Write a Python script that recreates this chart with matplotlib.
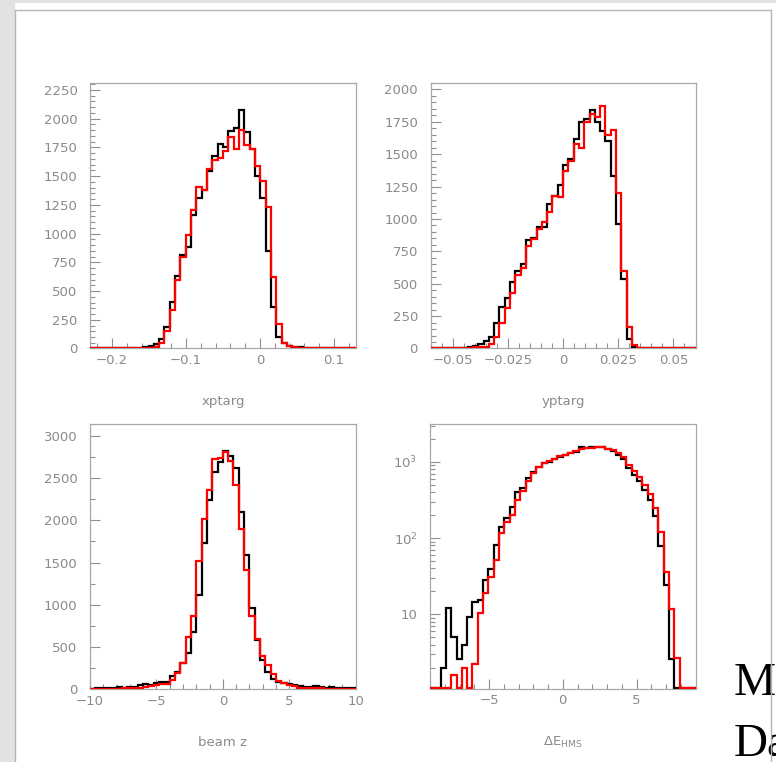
import numpy as np
import matplotlib
matplotlib.use("Agg")
import matplotlib.pyplot as plt
from matplotlib.ticker import FixedLocator, MultipleLocator, FixedFormatter, NullFormatter
from matplotlib.patches import Rectangle
from matplotlib.lines import Line2D

# ---------------- histogram contents (50 bins each) ----------------
xptarg_range = (-0.23, 0.13)
xptarg_black = [2, 3, 3, 3, 4, 4, 5, 5, 6, 8,
                12, 23, 37, 80, 191, 405, 634, 814, 886, 1162,
                1309, 1382, 1545, 1675, 1779, 1756, 1895, 1918, 2074, 1886,
                1735, 1500, 1307, 852, 362, 98, 52, 26, 16, 10,
                8, 6, 5, 4, 4, 3, 3, 2, 2, 2]
xptarg_red = [1, 1, 1, 2, 2, 2, 2, 3, 3, 3,
              5, 8, 15, 45, 150, 333, 595, 794, 991, 1205,
              1405, 1379, 1560, 1640, 1660, 1721, 1837, 1735, 1900, 1770,
              1735, 1585, 1455, 1228, 626, 217, 50, 22, 12, 8,
              5, 4, 4, 3, 3, 2, 2, 2, 2, 2]

yptarg_range = (-0.06, 0.06)
yptarg_black = [2, 2, 3, 3, 3, 4, 5, 8, 22, 32,
                61, 91, 195, 323, 393, 517, 599, 653, 839, 852,
                941, 941, 1114, 1174, 1264, 1415, 1461, 1618, 1747, 1773,
                1840, 1750, 1680, 1600, 1335, 960, 535, 70, 10, 3,
                2, 1, 1, 1, 1, 1, 1, 1, 1, 1]
yptarg_red = [1, 1, 1, 1, 2, 2, 3, 4, 8, 12,
              14, 32, 91, 195, 310, 426, 568, 625, 795, 845,
              923, 973, 1053, 1175, 1172, 1373, 1451, 1580, 1546, 1752,
              1812, 1785, 1874, 1650, 1688, 1203, 600, 167, 26, 5,
              2, 2, 1, 1, 1, 1, 1, 1, 1, 1]

beamz_range = (-10.0, 10.0)
beamz_black = [4, 10, 14, 15, 17, 22, 18, 28, 25, 45,
               62, 50, 75, 90, 85, 160, 201, 308, 426, 683,
               1117, 1735, 2242, 2575, 2688, 2822, 2763, 2617, 2096, 1591,
               967, 584, 347, 201, 122, 91, 71, 59, 51, 43,
               32, 28, 35, 24, 20, 28, 20, 16, 12, 12]
beamz_red = [2, 4, 5, 6, 6, 8, 10, 12, 15, 20,
             30, 40, 50, 65, 59, 107, 189, 316, 616, 872,
             1515, 2020, 2355, 2727, 2735, 2814, 2704, 2420, 1898, 1413,
             872, 592, 399, 288, 178, 99, 79, 51, 35, 20,
             15, 12, 10, 12, 8, 8, 6, 5, 4, 3]

de_range = (-9.0, 9.0)
de_black = [0, 0, 2, 12, 5, 2.6, 4, 9.3, 14.7, 15.4,
            28, 39, 81, 139, 186, 254, 408, 451, 611, 747,
            869, 957, 1005, 1083, 1150, 1234, 1325, 1367, 1555, 1525,
            1555, 1590, 1555, 1480, 1390, 1250, 1080, 830, 680, 555,
            430, 320, 195, 78, 24, 2.6, 0, 0, 0, 0]
de_red = [0, 0, 0, 0, 1.6, 0, 2, 0, 2.2, 10.5,
          18.8, 31, 52, 115, 162, 200, 316, 420, 560, 720,
          850, 960, 1040, 1100, 1180, 1250, 1330, 1400, 1480, 1520,
          1540, 1580, 1560, 1500, 1420, 1300, 1150, 900, 760, 640,
          500, 380, 250, 120, 36, 11.6, 2.7, 0, 0, 0]

W, H = 776, 762
fig = plt.figure(figsize=(W / 100, H / 100), dpi=100)
fig.patch.set_facecolor("white")

# slide background: grey margin on the left and top, framed white page
fig.patches.append(Rectangle((0, 0), 15 / W, 1, transform=fig.transFigure,
                             facecolor="#e2e2e2", edgecolor="none", zorder=0))
fig.patches.append(Rectangle((0, 1 - 3 / H), 1, 3 / H, transform=fig.transFigure,
                             facecolor="#e2e2e2", edgecolor="none", zorder=0))

GREY = "#8a8a8a"
FRAME = "#a8a8a8"
FS = 9.5


def px_axes(x0, y0, x1, y1):
    return fig.add_axes([x0 / W, 1 - y1 / H, (x1 - x0) / W, (y1 - y0) / H])


def style(ax):
    for s in ax.spines.values():
        s.set_color(FRAME)
        s.set_linewidth(0.9)
    ax.tick_params(which="both", direction="in", colors="#909090",
                   labelcolor=GREY, labelsize=FS, top=False, right=False,
                   width=0.8)
    ax.tick_params(which="major", length=7.5, pad=4)
    ax.tick_params(which="minor", length=3.8)
    ax.tick_params(axis="y", pad=9)


def draw_hist(ax, vals, rng, floor=0.0):
    edges = np.linspace(rng[0], rng[1], len(vals) + 1)
    v = np.maximum(np.asarray(vals, dtype=float), floor)
    ax.stairs(v, edges, baseline=floor, color=None, fill=False)


def hists(ax, black, red, rng, floor=0.0):
    for vals, col in ((black, "black"), (red, "#ff0000")):
        edges = np.linspace(rng[0], rng[1], len(vals) + 1)
        v = np.maximum(np.asarray(vals, dtype=float), floor)
        ax.stairs(v, edges, baseline=floor, color=col, linewidth=1.6,
                  zorder=3 if col == "black" else 4)
    ax.set_xlim(*rng)


# ---- xptarg ----
ax1 = px_axes(90, 83, 356, 348.5)
hists(ax1, xptarg_black, xptarg_red, xptarg_range)
ax1.set_ylim(0, 2310)
ax1.yaxis.set_major_locator(MultipleLocator(250))
ax1.yaxis.set_minor_locator(MultipleLocator(50))
ax1.xaxis.set_major_locator(FixedLocator([-0.2, -0.1, 0, 0.1]))
ax1.xaxis.set_major_formatter(FixedFormatter(["\u22120.2", "\u22120.1", "0", "0.1"]))
ax1.xaxis.set_minor_locator(MultipleLocator(0.02))
style(ax1)
fig.text(223 / W, 1 - 402 / H, "xptarg", ha="center", va="center",
         color=GREY, fontsize=FS)

# ---- yptarg ----
ax2 = px_axes(430.5, 83, 695.5, 348.5)
hists(ax2, yptarg_black, yptarg_red, yptarg_range)
ax2.set_ylim(0, 2050)
ax2.yaxis.set_major_locator(MultipleLocator(250))
ax2.yaxis.set_minor_locator(MultipleLocator(50))
ax2.xaxis.set_major_locator(FixedLocator([-0.05, -0.025, 0, 0.025, 0.05]))
ax2.xaxis.set_major_formatter(FixedFormatter(["\u22120.05", "\u22120.025", "0", "0.025", "0.05"]))
ax2.xaxis.set_minor_locator(MultipleLocator(0.005))
style(ax2)
fig.text(563 / W, 1 - 402 / H, "yptarg", ha="center", va="center",
         color=GREY, fontsize=FS)

# ---- beam z ----
ax3 = px_axes(90, 424, 355.7, 689.3)
hists(ax3, beamz_black, beamz_red, beamz_range)
ax3.set_ylim(0, 3140)
ax3.yaxis.set_major_locator(MultipleLocator(500))
ax3.yaxis.set_minor_locator(MultipleLocator(250))
ax3.xaxis.set_major_locator(FixedLocator([-10, -5, 0, 5, 10]))
ax3.xaxis.set_major_formatter(FixedFormatter(["\u221210", "\u22125", "0", "5", "10"]))
ax3.xaxis.set_minor_locator(MultipleLocator(1))
style(ax3)
fig.text(223 / W, 1 - 742 / H, "beam z", ha="center", va="center",
         color=GREY, fontsize=FS)

# ---- Delta E (log) ----
ax4 = px_axes(430, 424, 695.5, 688.5)
ax4.set_yscale("log")
ylo, yhi = 1.06, 3150
hists(ax4, de_black, de_red, de_range, floor=ylo)
ax4.set_ylim(ylo, yhi)
ax4.yaxis.set_major_locator(FixedLocator([10, 100, 1000]))
ax4.yaxis.set_major_formatter(FixedFormatter(["10", r"$\mathdefault{10^{2}}$",
                                              r"$\mathdefault{10^{3}}$"]))
minors = [m * 10 ** e for e in range(0, 4) for m in range(2, 10) if m * 10 ** e < yhi]
ax4.yaxis.set_minor_locator(FixedLocator(minors))
ax4.yaxis.set_minor_formatter(NullFormatter())
ax4.xaxis.set_major_locator(FixedLocator([-5, 0, 5]))
ax4.xaxis.set_major_formatter(FixedFormatter(["\u22125", "0", "5"]))
ax4.xaxis.set_minor_locator(MultipleLocator(1))
style(ax4)
fig.text(563 / W, 1 - 742 / H, r"$\Delta$E$_{\rm HMS}$", ha="center", va="center",
         color=GREY, fontsize=FS)

# partial slide text at the lower right
fig.text(734 / W, 1 - 684 / H, "M", ha="left", va="center", color="black",
         fontsize=34, family="Liberation Serif")
fig.text(734 / W, 1 - 745 / H, "Da", ha="left", va="center", color="black",
         fontsize=34, family="Liberation Serif")

# page frame lines
frame_col = "#b4b4b4"
fig.add_artist(Line2D([15 / W, 771 / W], [1 - 10 / H, 1 - 10 / H],
                      transform=fig.transFigure, color=frame_col, lw=1.0, zorder=10))
fig.add_artist(Line2D([15 / W, 15 / W], [0, 1 - 10 / H],
                      transform=fig.transFigure, color=frame_col, lw=1.0, zorder=10))
fig.add_artist(Line2D([771 / W, 771 / W], [0, 1 - 10 / H],
                      transform=fig.transFigure, color=frame_col, lw=1.0, zorder=10))

fig.savefig("out.png", dpi=100, facecolor=fig.get_facecolor())
